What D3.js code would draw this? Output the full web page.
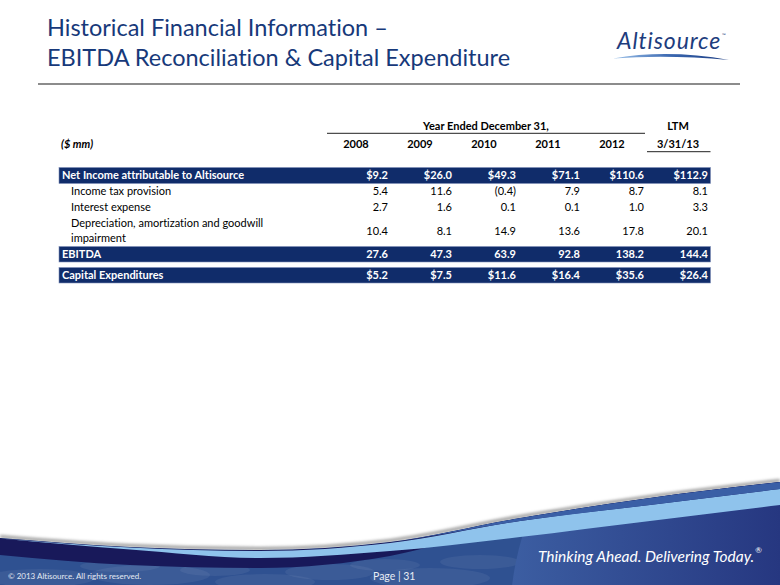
<!DOCTYPE html>
<html><head><meta charset="utf-8">
<script src="https://cdn.jsdelivr.net/npm/d3@7"></script>
<style>body{margin:0;background:#fff;} svg{display:block;} text{font-variant-ligatures:none;font-feature-settings:"liga" 0,"clig" 0;}</style>
</head><body><div id="chart"></div>
<script>
// ---------- data ----------
const periods = ["2008", "2009", "2010", "2011", "2012", "LTM"];
const periodLabels = ["2008", "2009", "2010", "2011", "2012", "3/31/13"];
const groupHeader = "Year Ended December 31,";
const ltmHeader = "LTM";
const unitLabel = "($ mm)";
const rowLabels = [
  ["Net Income attributable to Altisource"],
  ["Income tax provision"],
  ["Interest expense"],
  ["Depreciation, amortization and goodwill", "impairment"],
  ["EBITDA"],
  ["Capital Expenditures"]
];
const netIncome = [9.2, 26.0, 49.3, 71.1, 110.6, 112.9];
const incomeTax = [5.4, 11.6, -0.4, 7.9, 8.7, 8.1];
const interestExpense = [2.7, 1.6, 0.1, 0.1, 1.0, 3.3];
const depreciation = [10.4, 8.1, 14.9, 13.6, 17.8, 20.1];
const ebitda = [27.6, 47.3, 63.9, 92.8, 138.2, 144.4];
const capex = [5.2, 7.5, 11.6, 16.4, 35.6, 26.4];
const titleLines = ["Historical Financial Information \u2013", "EBITDA Reconciliation & Capital Expenditure"];
const copyright = "\u00A9 2013 Altisource.  All rights reserved.";
const pageLabel = "Page | 31";
const tagline = "Thinking Ahead.  Delivering Today.";

// ---------- setup ----------
const W = 780, H = 585;
const FONT = "Lato, 'Open Sans', sans-serif";
const NAVY = "#102c6a";
const TITLE = "#17397a";

const svg = d3.select("#chart").append("svg").attr("width", W).attr("height", H)
  .style("font-family", FONT);
const defs = svg.append("defs");

// ---------- title ----------
svg.append("g").selectAll("text").data(titleLines).join("text")
  .attr("x", 47).attr("y", (d, i) => 36 + i * 29.5)
  .attr("font-size", 23.5).attr("fill", TITLE).text(d => d);

svg.append("line").attr("x1", 38).attr("x2", 740).attr("y1", 84).attr("y2", 84)
  .attr("stroke", "#666").attr("stroke-width", 1.5);

// ---------- logo ----------
const swGrad = defs.append("linearGradient").attr("id", "sw").attr("x1", "0").attr("x2", "1");
swGrad.append("stop").attr("offset", "0").attr("stop-color", "#9cc2ea");
swGrad.append("stop").attr("offset", "0.5").attr("stop-color", "#3a67b0");
swGrad.append("stop").attr("offset", "1").attr("stop-color", "#1a3a80");
svg.append("text").attr("x", 617).attr("y", 49).attr("font-size", 23).attr("font-style", "italic")
  .attr("letter-spacing", 0.9).attr("fill", "#1d3c7d").text("Altisource");
svg.append("text").attr("x", 722).attr("y", 37).attr("font-size", 5).attr("fill", "#1d3c7d").text("\u2122");
svg.append("path").attr("d", "M613,58.5 Q668,49 729,60 Q668,54.5 613,58.5 Z").attr("fill", "url(#sw)");

// ---------- table ----------
const x = d3.scaleBand().domain(periods).range([324, 708]).paddingInner(0);
const bw = x.bandwidth();
const tableLeft = 59, tableRight = 710.5;

const rows = [
  { label: rowLabels[0], values: netIncome, band: true, dollar: true, h: 16, gap: 0 },
  { label: rowLabels[1], values: incomeTax, band: false, dollar: false, h: 16, gap: 0 },
  { label: rowLabels[2], values: interestExpense, band: false, dollar: false, h: 16, gap: 0 },
  { label: rowLabels[3], values: depreciation, band: false, dollar: false, h: 31, gap: 0 },
  { label: rowLabels[4], values: ebitda, band: true, dollar: false, h: 15.5, gap: 0 },
  { label: rowLabels[5], values: capex, band: true, dollar: true, h: 15.5, gap: 5.5 }
];
let yCur = 167.5;
rows.forEach(r => { yCur += r.gap; r.top = yCur; yCur += r.h; });

const fmt = (v, dollar) => {
  const s = Math.abs(v).toFixed(1);
  const body = (dollar ? "$" : "") + s;
  return v < 0 ? "(" + body + ")" : body;
};

const tg = svg.append("g").attr("font-size", 11);

// header
tg.append("text").attr("x", (x("2008") + 3 + x("2012") + bw + 1) / 2).attr("y", 129.5)
  .attr("text-anchor", "middle").attr("font-weight", "bold").attr("fill", "#000").text(groupHeader);
tg.append("text").attr("x", x("LTM") + bw / 2 + 2).attr("y", 129.5)
  .attr("text-anchor", "middle").attr("font-weight", "bold").attr("fill", "#000").text(ltmHeader);
tg.append("line").attr("x1", x("2008") + 3).attr("x2", x("2012") + bw + 1)
  .attr("y1", 133.3).attr("y2", 133.3).attr("stroke", "#222").attr("stroke-width", 1);
tg.append("line").attr("x1", x("LTM") + 3).attr("x2", tableRight)
  .attr("y1", 151.7).attr("y2", 151.7).attr("stroke", "#222").attr("stroke-width", 1);
tg.append("text").attr("x", 61).attr("y", 148).attr("font-weight", "bold").attr("font-style", "italic")
  .attr("fill", "#000").text(unitLabel);
tg.selectAll("text.yr").data(periods).join("text").attr("class", "yr")
  .attr("x", d => x(d) + bw / 2 + (d === "LTM" ? 2 : 0)).attr("y", 148)
  .attr("text-anchor", "middle").attr("font-weight", "bold").attr("fill", "#000")
  .text((d, i) => periodLabels[i]);

// rows
const rg = tg.selectAll("g.row").data(rows).join("g").attr("class", "row");
rg.filter(d => d.band).append("rect")
  .attr("x", tableLeft).attr("width", tableRight - tableLeft)
  .attr("y", d => d.top).attr("height", d => d.h)
  .attr("fill", NAVY).attr("stroke", "#7f90b8").attr("stroke-width", 0.6);
rg.each(function (r) {
  const g = d3.select(this);
  const mid = r.top + r.h / 2;
  const color = r.band ? "#fff" : "#000";
  const weight = r.band ? "bold" : "normal";
  const lx = r.band ? 62 : 71;
  const n = r.label.length;
  g.selectAll("text.lbl").data(r.label).join("text").attr("class", "lbl")
    .attr("x", lx).attr("y", (d, i) => mid + 3.9 + (i - (n - 1) / 2) * 15)
    .attr("fill", color).attr("font-weight", weight).text(d => d);
  g.selectAll("text.val").data(r.values).join("text").attr("class", "val")
    .attr("x", (d, i) => x(periods[i]) + bw).attr("y", mid + 3.9)
    .attr("text-anchor", "end").attr("fill", color).attr("font-weight", weight)
    .text(d => fmt(d, r.dollar));
});

// ---------- footer wave ----------
const xs = [0, 130, 260, 390, 520, 650, 780];
const T  = [538, 547, 550, 542, 518, 498, 482];
const Nb = [555, 565, 568, 556, 522, 505, 489];
const Lt = [538.5, 547.5, 551, 543, 521, 505, 489];
const Lb = [538.5, 549.5, 558, 551, 537, 521, 505];
const pts = (a, b) => xs.map((xv, i) => ({ x: xv, y0: a[i], y1: b ? b[i] : H }));
const area = d3.area().x(d => d.x).y0(d => d.y0).y1(d => d.y1).curve(d3.curveMonotoneX);
const line = d3.line().x(d => d.x).y(d => d.y0).curve(d3.curveMonotoneX);

const blur = defs.append("filter").attr("id", "blur").attr("x", "-5%").attr("y", "-50%").attr("width", "110%").attr("height", "200%");
blur.append("feGaussianBlur").attr("stdDeviation", 1.6);
const fg = svg.append("g");
fg.append("path").attr("d", line(pts(T.map(v => v - 1.5)))).attr("fill", "none")
  .attr("stroke", "#9a9a9a").attr("stroke-width", 3).attr("filter", "url(#blur)");

const clip = defs.append("clipPath").attr("id", "wave");
clip.append("path").attr("d", area(pts(T)));

const fc = fg.append("g").attr("clip-path", "url(#wave)");
fc.append("rect").attr("x", 0).attr("y", 470).attr("width", W).attr("height", 115).attr("fill", "#2f5191");
// subtle oval texture
const ovals = [[40, 578, 55, 9], [150, 575, 60, 10], [265, 582, 50, 8], [330, 572, 45, 8], [430, 578, 60, 10],
  [120, 566, 40, 6], [385, 565, 35, 6], [480, 562, 40, 7], [215, 570, 35, 6]];
fc.selectAll("ellipse").data(ovals).join("ellipse")
  .attr("cx", d => d[0]).attr("cy", d => d[1]).attr("rx", d => d[2]).attr("ry", d => d[3])
  .attr("fill", "#ffffff").attr("opacity", 0.06);
const rg2 = defs.append("linearGradient").attr("id", "dark").attr("x1", "0").attr("x2", "1");
rg2.append("stop").attr("offset", "0").attr("stop-color", "#3c5ea2");
rg2.append("stop").attr("offset", "0.55").attr("stop-color", "#22307a");
rg2.append("stop").attr("offset", "1").attr("stop-color", "#141852");
fc.append("circle").attr("cx", 800).attr("cy", 620).attr("r", 290).attr("fill", "url(#dark)");
fc.append("path").attr("d", area(pts(T, Nb))).attr("fill", "#18195a");
fc.append("path").attr("d", area(pts(Lt, Lb))).attr("fill", "#8fc3ec");
fc.append("path").attr("d", area(pts(T, T.map((v, i) => i >= 4 ? Lt[i] : v)))).attr("fill", "#3a5fa6");

svg.append("text").attr("x", 8).attr("y", 579).attr("font-size", 8).attr("fill", "#e4e9f2").text(copyright);
svg.append("text").attr("x", 373).attr("y", 579.5).attr("font-size", 10.5).attr("fill", "#e8ecf4").text(pageLabel);
const tl = svg.append("text").attr("x", 538).attr("y", 561.5).attr("font-size", 15.5).attr("font-style", "italic")
  .attr("fill", "#ffffff").text(tagline);
const tlEnd = 538 + tl.node().getComputedTextLength();
svg.append("text").attr("x", tlEnd + 1).attr("y", 553).attr("font-size", 8).attr("fill", "#ffffff").text("\u00AE");
</script></body></html>
